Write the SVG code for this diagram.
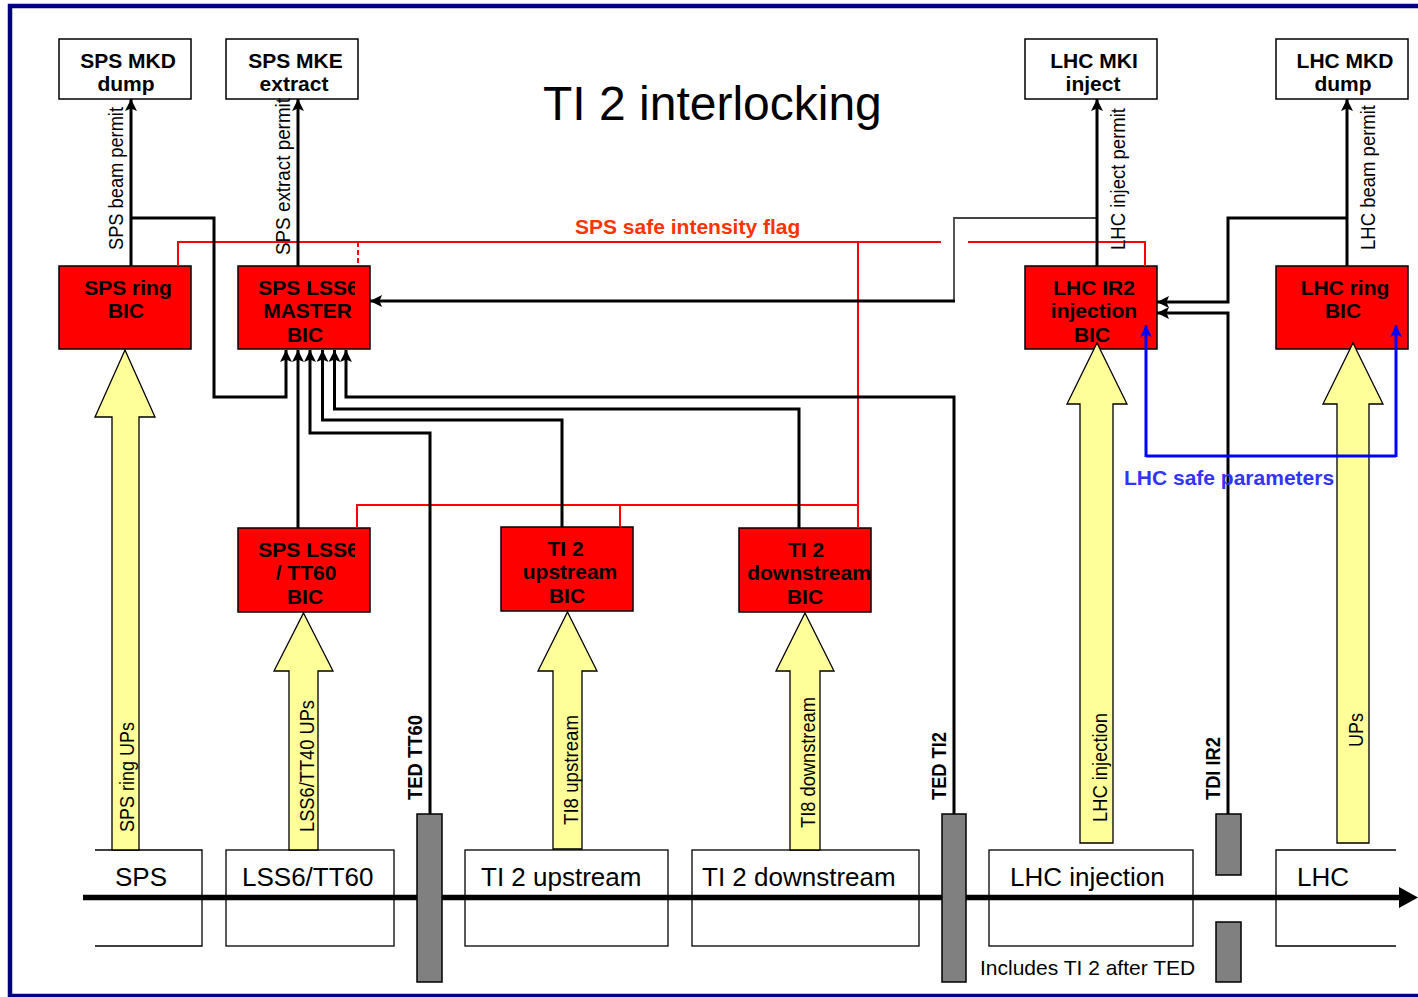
<svg xmlns="http://www.w3.org/2000/svg" width="1418" height="997" viewBox="0 0 1418 997">
<style>
text{font-family:"Liberation Sans",Arial,sans-serif;}
.box{fill:#fff;stroke:#000;stroke-width:1.5;}
.bic{fill:#ff0000;stroke:#000;stroke-width:1.5;}
.bt{font-size:21px;font-weight:bold;fill:#000;text-anchor:middle;}
.ya{fill:#ffff99;stroke:#000;stroke-width:1.3;}
.yt{font-size:20px;fill:#000;}
.pt{font-size:20px;fill:#000;}
.ted{fill:#808080;stroke:#000;stroke-width:1.5;}
.tl{font-size:20px;font-weight:bold;fill:#000;}
.sec{fill:#fff;stroke:#000;stroke-width:1.3;}
.st{font-size:26px;fill:#000;}
.blk{fill:none;stroke:#000;stroke-width:3;}
.gry{fill:none;stroke:#444;stroke-width:1.8;}
.red{fill:none;stroke:#ff0000;stroke-width:2;}
.blu{fill:none;stroke:#0000ff;stroke-width:3;}
</style>
<defs>
<marker id="ah" viewBox="0 0 12 12" refX="12" refY="6" markerWidth="12" markerHeight="12" markerUnits="userSpaceOnUse" orient="auto">
<path d="M0,0 L12,6 L0,12 L2.5,6 z" fill="#000"/>
</marker>
<marker id="ahb" viewBox="0 0 12 12" refX="12" refY="6" markerWidth="12" markerHeight="12" markerUnits="userSpaceOnUse" orient="auto">
<path d="M0,0 L12,6 L0,12 L2.5,6 z" fill="#0000ff"/>
</marker>
<clipPath id="clipMaster"><rect x="238" y="266" width="117" height="83"/></clipPath>
<clipPath id="clipLss"><rect x="238" y="528" width="117" height="84"/></clipPath>
<clipPath id="clipDown"><rect x="739" y="528" width="132" height="84"/></clipPath>
</defs>

<rect x="10" y="6" width="1420" height="990" fill="#fff" stroke="#000080" stroke-width="4.5"/>

<text x="543" y="120" style="font-size:48px;fill:#000;">TI 2 interlocking</text>

<!-- beam line sections -->
<g id="sections">
<path class="sec" d="M95,850 H202 V946 H95"/>
<rect class="sec" x="226" y="850" width="168" height="96"/>
<rect class="sec" x="465" y="850" width="203" height="96"/>
<rect class="sec" x="692" y="850" width="227" height="96"/>
<rect class="sec" x="989" y="850" width="204" height="96"/>
<path class="sec" d="M1396,850 H1276 V946 H1396"/>
<text class="st" x="115" y="886">SPS</text>
<text class="st" x="242" y="886">LSS6/TT60</text>
<text class="st" x="481" y="886">TI 2 upstream</text>
<text class="st" x="702" y="886">TI 2 downstream</text>
<text class="st" x="1010" y="886">LHC injection</text>
<text class="st" x="1297" y="886">LHC</text>
<text x="980" y="975" style="font-size:21px;fill:#000;">Includes TI 2 after TED</text>
</g>

<g id="beam-line">
<path d="M83,897.5 H1402" stroke="#000" stroke-width="5.5" fill="none"/>
<polygon points="1399,887 1418,897.5 1399,908" fill="#000"/>
</g>

<!-- top targets -->
<g id="sps-mkd">
<rect class="box" x="59" y="39" width="132" height="60"/>
<text class="bt" x="128" y="68">SPS MKD</text>
<text class="bt" x="126" y="91">dump</text>
</g>
<g id="sps-mke">
<rect class="box" x="226" y="39" width="132" height="60"/>
<text class="bt" x="295.5" y="68">SPS MKE</text>
<text class="bt" x="294" y="91">extract</text>
</g>
<g id="lhc-mki">
<rect class="box" x="1025" y="39" width="132" height="60"/>
<text class="bt" x="1094" y="68">LHC MKI</text>
<text class="bt" x="1093" y="91">inject</text>
</g>
<g id="lhc-mkd">
<rect class="box" x="1276" y="39" width="132" height="60"/>
<text class="bt" x="1345" y="68">LHC MKD</text>
<text class="bt" x="1343" y="91">dump</text>
</g>

<!-- BICs -->
<g id="sps-ring-bic">
<rect class="bic" x="59" y="266" width="132" height="83"/>
<text class="bt" x="128" y="295">SPS ring</text>
<text class="bt" x="126" y="318">BIC</text>
</g>
<g id="sps-master-bic">
<rect class="bic" x="238" y="266" width="132" height="83"/>
<text class="bt" x="308.5" y="295" clip-path="url(#clipMaster)">SPS LSS6</text>
<text class="bt" x="307.5" y="318">MASTER</text>
<text class="bt" x="305" y="342">BIC</text>
</g>
<g id="lhc-ir2-bic">
<rect class="bic" x="1025" y="266" width="132" height="83"/>
<text class="bt" x="1094" y="295">LHC IR2</text>
<text class="bt" x="1094" y="318">injection</text>
<text class="bt" x="1092" y="342">BIC</text>
</g>
<g id="lhc-ring-bic">
<rect class="bic" x="1276" y="266" width="132" height="83"/>
<text class="bt" x="1345" y="295">LHC ring</text>
<text class="bt" x="1343" y="318">BIC</text>
</g>
<g id="sps-lss6-tt60-bic">
<rect class="bic" x="238" y="528" width="132" height="84"/>
<text class="bt" x="308.5" y="557" clip-path="url(#clipLss)">SPS LSS6</text>
<text class="bt" x="306" y="580">/ TT60</text>
<text class="bt" x="305" y="604">BIC</text>
</g>
<g id="ti2-upstream-bic">
<rect class="bic" x="501" y="527" width="132" height="84"/>
<text class="bt" x="565.5" y="556">TI 2</text>
<text class="bt" x="570" y="579">upstream</text>
<text class="bt" x="567" y="603">BIC</text>
</g>
<g id="ti2-downstream-bic">
<rect class="bic" x="739" y="528" width="132" height="84"/>
<text class="bt" x="806" y="557">TI 2</text>
<text class="bt" x="809" y="580" clip-path="url(#clipDown)">downstream</text>
<text class="bt" x="805" y="604">BIC</text>
</g>

<!-- yellow UP arrows -->
<g id="sps-ring-ups">
<polygon class="ya" points="125,350 155,417 139,417 139,850 112,850 112,417 95,417"/>
<text class="yt" transform="translate(133.5,832) rotate(-90)" textLength="110" lengthAdjust="spacingAndGlyphs">SPS ring UPs</text>
</g>
<g id="lss6-tt40-ups">
<polygon class="ya" points="303.5,613 333,671 318,671 318,850 289,850 289,671 274,671"/>
<text class="yt" transform="translate(313.5,832) rotate(-90)" textLength="132" lengthAdjust="spacingAndGlyphs">LSS6/TT40 UPs</text>
</g>
<g id="ti8-upstream">
<polygon class="ya" points="567.5,612 597,671 582,671 582,849 553,849 553,671 538,671"/>
<text class="yt" transform="translate(577.5,825) rotate(-90)" textLength="110" lengthAdjust="spacingAndGlyphs">TI8 upstream</text>
</g>
<g id="ti8-downstream">
<polygon class="ya" points="805,613 834,671 820,671 820,850 790,850 790,671 776,671"/>
<text class="yt" transform="translate(815,828) rotate(-90)" textLength="131" lengthAdjust="spacingAndGlyphs">TI8 downstream</text>
</g>
<g id="lhc-injection-ups">
<polygon class="ya" points="1097,343 1127,404 1113,404 1113,843 1080,843 1080,404 1067,404"/>
<text class="yt" transform="translate(1107,822) rotate(-90)" textLength="109" lengthAdjust="spacingAndGlyphs">LHC injection</text>
</g>
<g id="lhc-ring-ups">
<polygon class="ya" points="1353,343 1383,404 1369,404 1369,843 1337,843 1337,404 1323,404"/>
<text class="yt" transform="translate(1363,747) rotate(-90)" textLength="34" lengthAdjust="spacingAndGlyphs">UPs</text>
</g>

<!-- connectors -->
<g id="connectors">
<path class="red" d="M178,266 V242 H941"/>
<path class="red" d="M968,242 H1145 V266"/>
<path class="red" d="M358,242 V266" stroke-dasharray="5,3"/>
<path class="red" d="M858,242 V528"/>
<path class="red" d="M357,528 V505 H858"/>
<path class="red" d="M620,505 V527"/>

<path class="blk" d="M131,266 V99" marker-end="url(#ah)"/>
<path class="blk" d="M131,218 H214 V397 H286 V350" marker-end="url(#ah)"/>
<path class="blk" d="M298,266 V99" marker-end="url(#ah)"/>
<path class="blk" d="M298,528 V350" marker-end="url(#ah)"/>
<path class="blk" d="M430,814 V433 H310 V350" marker-end="url(#ah)"/>
<path class="blk" d="M562,527 V420 H322.5 V350" marker-end="url(#ah)"/>
<path class="blk" d="M799,528 V409 H334.5 V350" marker-end="url(#ah)"/>
<path class="blk" d="M954,814 V397 H346 V350" marker-end="url(#ah)"/>
<path class="gry" d="M1097,218 H954 V301"/>
<path class="blk" d="M955,301 H370" marker-end="url(#ah)"/>
<path class="blk" d="M1097,266 V99" marker-end="url(#ah)"/>
<path class="blk" d="M1347,266 V99" marker-end="url(#ah)"/>
<path class="blk" d="M1347,218 H1228 V302 H1157" marker-end="url(#ah)"/>
<path class="blk" d="M1228,814 V313 H1157" marker-end="url(#ah)"/>

<path class="blu" d="M1146,456 H1396"/>
<path class="blu" d="M1146,457 V325" marker-end="url(#ahb)"/>
<path class="blu" d="M1396,457 V325" marker-end="url(#ahb)"/>

<text class="pt" transform="translate(123,250) rotate(-90)" textLength="143" lengthAdjust="spacingAndGlyphs">SPS beam permit</text>
<text class="pt" transform="translate(290,255) rotate(-90)" textLength="157" lengthAdjust="spacingAndGlyphs">SPS extract permit</text>
<text class="pt" transform="translate(1125,250) rotate(-90)" textLength="142" lengthAdjust="spacingAndGlyphs">LHC inject permit</text>
<text class="pt" transform="translate(1375,250) rotate(-90)" textLength="145" lengthAdjust="spacingAndGlyphs">LHC beam permit</text>

<text x="575" y="234" style="font-size:21px;font-weight:bold;fill:#ff3300;">SPS safe intensity flag</text>
<text x="1124" y="485" style="font-size:21px;font-weight:bold;fill:#3333ff;">LHC safe parameters</text>
</g>

<!-- TED / TDI blocks -->
<g id="ted-tt60">
<rect class="ted" x="417" y="814" width="25" height="168"/>
<text class="tl" transform="translate(422,800) rotate(-90)" textLength="85" lengthAdjust="spacingAndGlyphs">TED TT60</text>
</g>
<g id="ted-ti2">
<rect class="ted" x="942" y="814" width="24" height="168"/>
<text class="tl" transform="translate(946,800) rotate(-90)" textLength="68" lengthAdjust="spacingAndGlyphs">TED TI2</text>
</g>
<g id="tdi-ir2">
<rect class="ted" x="1216" y="814" width="25" height="61"/>
<rect class="ted" x="1216" y="922" width="25" height="60"/>
<text class="tl" transform="translate(1220,800) rotate(-90)" textLength="63" lengthAdjust="spacingAndGlyphs">TDI IR2</text>
</g>
</svg>
